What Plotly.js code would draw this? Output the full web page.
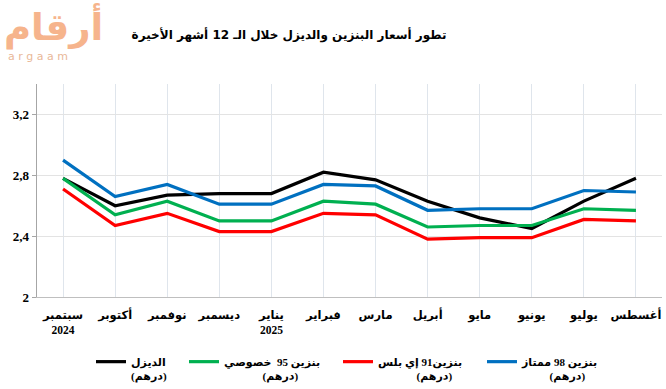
<!DOCTYPE html>
<html>
<head>
<meta charset="utf-8">
<script src="https://cdn.plot.ly/plotly-3.0.1.min.js"></script>
<style>html,body{margin:0;padding:0;background:#fff;}#chart{width:666px;height:389px;}</style>
</head>
<body>
<div id="chart"></div>
<script>
const months = ["سبتمبر<br>2024","أكتوبر","نوفمبر","ديسمبر","يناير<br>2025","فبراير","مارس","أبريل","مايو","يونيو","يوليو","أغسطس"];
const diesel = [2.78,2.60,2.67,2.68,2.68,2.82,2.77,2.63,2.52,2.45,2.63,2.78];
const special95 = [2.78,2.54,2.63,2.50,2.50,2.63,2.61,2.46,2.47,2.47,2.58,2.57];
const eplus91 = [2.71,2.47,2.55,2.43,2.43,2.55,2.54,2.38,2.39,2.39,2.51,2.50];
const super98 = [2.90,2.66,2.74,2.61,2.61,2.74,2.73,2.57,2.58,2.58,2.70,2.69];
const seriesNames = ["الديزل","بنزين 95\u00a0\u00a0خصوصي","بنزين91 إي بلس","بنزين 98 ممتاز"];
const unitLabel = "(درهم)";
const unitPad = [0, 14, 14, 10];
const seriesColors = ["#000000","#00B050","#FF0000","#0070C0"];
const yTicks = [2,2.4,2.8,3.2];
const titleText = "تطور أسعار البنزين والديزل خلال الـ 12 أشهر الأخيرة";

const serifFont = "Liberation Serif, Times New Roman, DejaVu Serif, DejaVu Sans, serif";
const arabicFont = "DejaVu Sans, sans-serif";
const condFont = "Liberation Serif, DejaVu Sans, sans-serif";
const values = [diesel, special95, eplus91, super98];
const legendIds = ["legend","legend2","legend3","legend4"];
const traces = values.map((v,i)=>({
  type:"scatter", mode:"lines", x:months, y:v,
  name: seriesNames[i] + "<br>" + "\u00a0".repeat(unitPad[i]) + unitLabel,
  line:{color:seriesColors[i], width:3.2}, legend:legendIds[i], hoverinfo:"skip"
}));

const plotL=37, plotR=662, plotT=84, plotB=297;
const W=666, H=389;
const pw = plotR-plotL, ph = plotB-plotT;
function px2x(p){return (p-plotL)/pw;}
function py2y(p){return (plotB-p)/ph;}
const legendTextStarts=[133,226,380,524];
const legFont={family:condFont, size:11, color:"#000", weight:"bold"};
const layout = {
  width:W, height:H,
  margin:{l:plotL, r:W-plotR, t:plotT, b:H-plotB, pad:0, autoexpand:false},
  paper_bgcolor:"#fff", plot_bgcolor:"#fff",
  separators:",.",
  showlegend:true,
  title:{text:titleText, font:{family:arabicFont, size:12, color:"#000", weight:"bold"},
         x:289/W, xanchor:"center", xref:"container", y:1-35/H, yanchor:"middle", yref:"container"},
  xaxis:{type:"category", range:[-0.5,11.5], showgrid:true, gridcolor:"#dfe5ec", gridwidth:1,
         showline:true, linecolor:"#bfbfbf", linewidth:1.3, ticks:"", zeroline:false, ticklabelstandoff:7,
         automargin:false,
         tickfont:{family:condFont, size:11.5, color:"#000", weight:"bold"}, fixedrange:true},
  yaxis:{range:[2,3.4], tickmode:"array", tickvals:yTicks, showgrid:true, gridcolor:"#e3e3e3", gridwidth:1,
         showline:true, linecolor:"#a6a6a6", linewidth:1.3, ticks:"outside", ticklen:4, tickcolor:"#a6a6a6",
         automargin:false,
         zeroline:false, tickfont:{family:serifFont, size:13, color:"#000", weight:"bold"}, fixedrange:true},
  annotations:[
    {text:"أرقام", xref:"paper", yref:"paper", x:px2x(2), y:py2y(27), xanchor:"left", align:"left", yanchor:"middle",
     showarrow:false, font:{family:arabicFont, size:37, color:"#f6b48c", weight:"bold"}},
    {text:"a r g a a m", xref:"paper", yref:"paper", x:px2x(38), y:py2y(57), xanchor:"center", yanchor:"middle",
     showarrow:false, font:{family:arabicFont, size:11, color:"#e9b898"}}
  ]
};
legendIds.forEach((id,i)=>{
  layout[id]={orientation:"h", x:px2x(legendTextStarts[i]-42), xanchor:"left", y:py2y(348), yanchor:"top",
    bgcolor:"rgba(0,0,0,0)", borderwidth:0, font:legFont, valign:"top", itemwidth:30, tracegroupgap:0};
});
Plotly.newPlot("chart", traces, layout, {staticPlot:true, displayModeBar:false});
</script>
</body>
</html>
